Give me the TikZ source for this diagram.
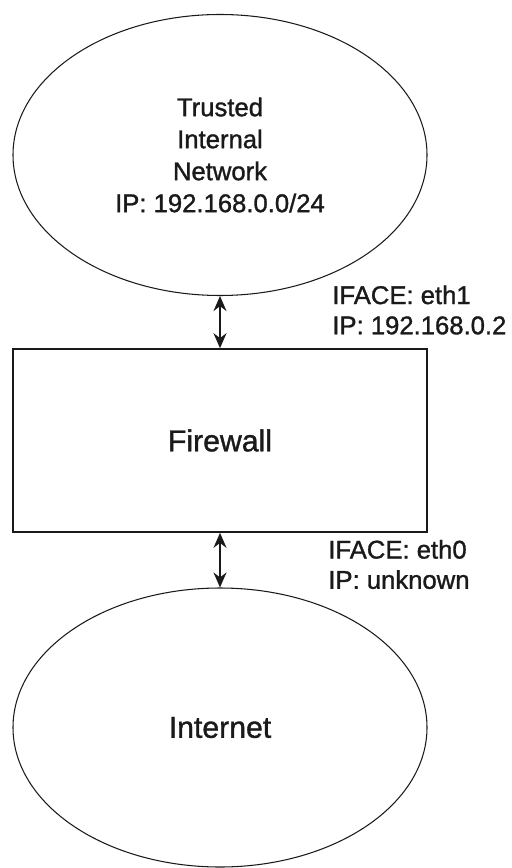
\documentclass[tikz,border=0pt]{standalone}
\usepackage{fontspec}
\setmainfont{Liberation Sans}
\newfontfamily\fwfont{Liberation Sans}[FakeBold=1.2]
\usetikzlibrary{arrows.meta,shapes.geometric}
\definecolor{fwInk}{HTML}{1A1A1A}
\tikzset{
  net/.style     ={ellipse,draw=fwInk,line width=0.6pt,inner sep=0pt,
                   minimum width=8.28cm,minimum height=5.62cm,align=center},
  fwbox/.style   ={rectangle,draw=fwInk,line width=0.9pt,inner sep=0pt,
                   minimum width=8.28cm,minimum height=3.66cm},
  link/.style    ={{Stealth[length=3mm,width=2.6mm]}-{Stealth[length=3mm,width=2.6mm]},
                   fwInk,line width=0.9pt},
  iflbl/.style   ={anchor=west,align=left,inner sep=0pt,text=fwInk,
                   font=\fwfont\fontsize{14.6}{17.2}\selectfont},
  nettxt/.style  ={font=\fwfont\fontsize{14.6}{18.2}\selectfont,text=fwInk},
  bigtxt/.style  ={font=\fwfont\fontsize{17.2}{20}\selectfont,text=fwInk},
}

\begin{document}
\begin{tikzpicture}
\useasboundingbox (0,0) rectangle (10.22,-17.36);
% ── networks and firewall ─────────────────────────────────────────────────
\node[net,nettxt] (lan) at (4.40,-3.10)
  {Trusted\\Internal\\Network\\IP: 192.168.0.0/24};
\node[fwbox,bigtxt] (fw) at (4.40,-8.81) {Firewall};
\node[net,bigtxt,minimum height=5.58cm] (wan) at (4.40,-14.55) {Internet};

% ── links ─────────────────────────────────────────────────────────────────
\draw[link] (lan.south) -- (fw.north);
\draw[link] (fw.south) -- (wan.north);

% ── interface labels ──────────────────────────────────────────────────────
\node[iflbl] (eth1) at (6.64,-6.20) {IFACE: eth1\\IP: 192.168.0.2};
\node[iflbl] (eth0) at (6.56,-11.29) {IFACE: eth0\\IP: unknown};
\end{tikzpicture}
\end{document}
